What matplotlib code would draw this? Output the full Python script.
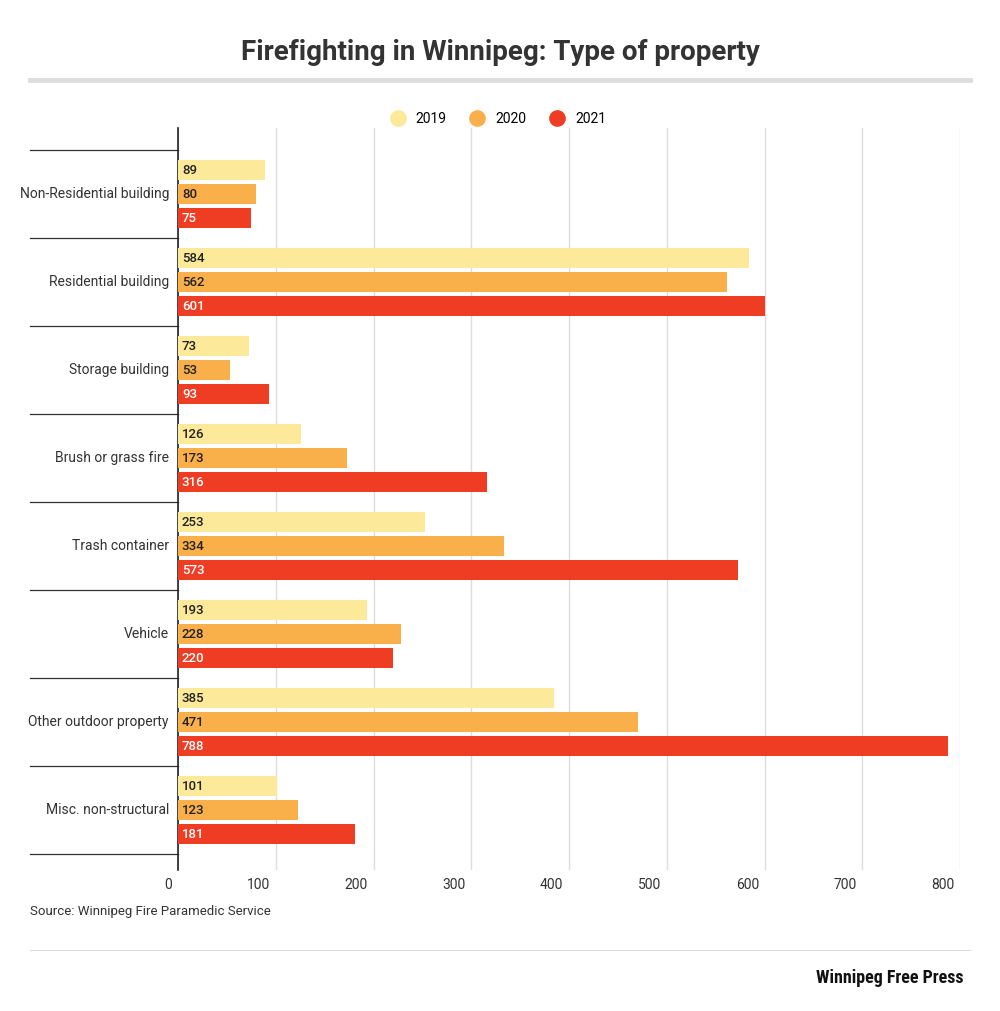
import matplotlib
matplotlib.use("Agg")
import matplotlib.pyplot as plt
from matplotlib.lines import Line2D
import numpy as np

categories = ["Non-Residential building", "Residential building", "Storage building",
              "Brush or grass fire", "Trash container", "Vehicle",
              "Other outdoor property", "Misc. non-structural"]
years = ["2019", "2020", "2021"]
v2019 = [89, 584, 73, 126, 253, 193, 385, 101]
v2020 = [80, 562, 53, 173, 334, 228, 471, 123]
v2021 = [75, 601, 93, 316, 573, 220, 788, 181]
colors = ["#fde99a", "#f9b04b", "#ee3d23"]
xticks = [0, 100, 200, 300, 400, 500, 600, 700, 800]

plt.rcParams['font.family'] = ['Roboto', 'DejaVu Sans']
W, H = 1000, 1011
fig = plt.figure(figsize=(W/100, H/100), dpi=100)
ax = fig.add_axes([178/W, 1-870/H, 782/W, 742/H])

y = np.arange(len(categories))
off = 24/88
h = 20/88
for k, (vals, c) in enumerate(zip([v2019, v2020, v2021], colors)):
    pos = y + (k-1)*off
    ax.barh(pos, vals, height=h, color=c, zorder=3)
    for p, v in zip(pos, vals):
        ax.text(4, p, str(v), va='center', ha='left', fontsize=9.5, fontweight='medium',
                color='white' if k == 2 else '#222', zorder=4)

ax.set_xlim(0, 800)
ax.set_ylim(7.68, -0.75)
ax.set_xticks(xticks)
ax.set_xticklabels([])
for t in xticks:
    ax.text(t-3, 8.45 - 0.75 + 0.75, "", )
    ax.annotate(str(t), xy=(t, 0), xycoords=('data', 'axes fraction'),
                xytext=(-4, -6), textcoords='offset points', ha='right', va='top',
                fontsize=10, color='#333')
ax.tick_params(axis='x', length=0)
ax.set_yticks([])
ax.grid(axis='x', color='#dddddd', lw=1, zorder=0)
for s in ['top', 'right', 'bottom']:
    ax.spines[s].set_visible(False)
ax.spines['left'].set_color('#222')
ax.spines['left'].set_linewidth(1.2)

trans = ax.get_yaxis_transform()
for i in range(len(categories)+1):
    ax.plot([-148/782, 0], [i-0.5, i-0.5], transform=trans, color='#333', lw=0.9, clip_on=False)
for i, c in enumerate(categories):
    ax.text(-9/782, i, c, transform=trans, ha='right', va='center', fontsize=10, color='#333')

handles = [Line2D([], [], marker='o', ls='', markersize=11, color=c) for c in colors]
fig.legend(handles, years, loc='center', bbox_to_anchor=(0.495, 1-119/H), ncol=3,
           frameon=False, fontsize=10, handletextpad=0.3, columnspacing=1.2)

fig.text(0.5, 1-52/H, "Firefighting in Winnipeg: Type of property", ha='center', va='center',
         fontsize=20, fontweight='bold', color='#333')
fig.add_artist(Line2D([30/W, 970/W], [1-80/H, 1-80/H], color='#dddddd', lw=3.5))
fig.add_artist(Line2D([30/W, 970/W], [1-950/H, 1-950/H], color='#dddddd', lw=0.8))
fig.text(30/W, 1-911/H, "Source: Winnipeg Fire Paramedic Service", ha='left', va='center',
         fontsize=9.5, color='#333')
fig.text(963/W, 1-978/H, "Winnipeg Free Press", ha='right', va='center', fontsize=13,
         fontweight='bold', color='#111', family=['Roboto Condensed', 'Liberation Sans Narrow', 'DejaVu Sans'])
fig.savefig("out.png", dpi=100, facecolor='white')
